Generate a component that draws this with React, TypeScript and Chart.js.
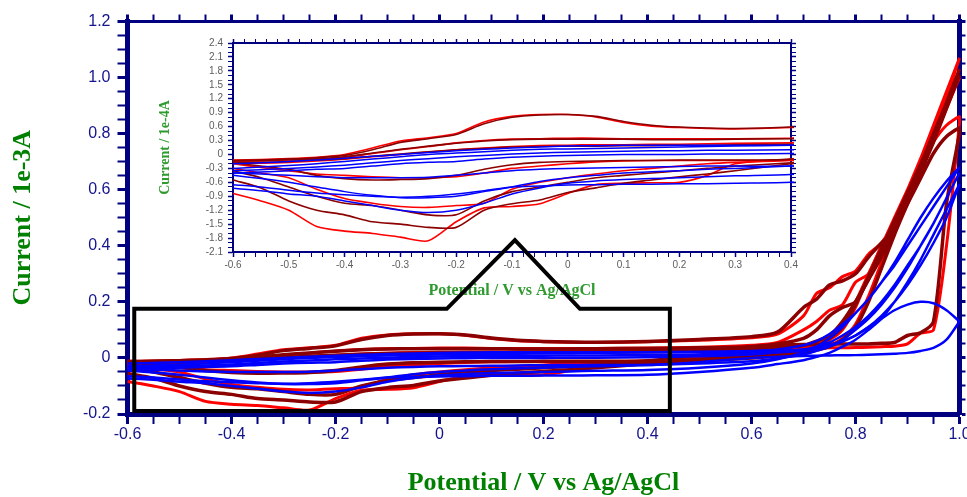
import React, { useEffect, useRef } from 'react';
import { Chart, registerables } from 'chart.js';

Chart.register(...registerables);

// Potential grid (V vs Ag/AgCl) shared by every sweep
const POTENTIAL = [-0.6, -0.55, -0.5, -0.45, -0.4, -0.35, -0.3, -0.25, -0.2, -0.15, -0.1, -0.05, 0, 0.05, 0.1, 0.15, 0.2, 0.25, 0.3, 0.4, 0.5, 0.6, 0.65, 0.7, 0.725, 0.75, 0.775, 0.8, 0.825, 0.85, 0.875, 0.9, 0.925, 0.95, 0.975, 1.0];

// Currents in 1e-3 A. FWD = anodic sweep, REV = return sweep (listed in ascending potential order)
const BLUE_1_FWD = [-0.03, -0.027, -0.024, -0.02, -0.015, -0.01, -0.005, 0.0, 0.003, 0.006, 0.009, 0.011, 0.012, 0.013, 0.014, 0.015, 0.016, 0.017, 0.018, 0.02, 0.022, 0.025, 0.03, 0.045, 0.06, 0.085, 0.12, 0.16, 0.21, 0.27, 0.33, 0.4, 0.47, 0.54, 0.61, 0.68];
const BLUE_1_REV = [-0.073, -0.078, -0.085, -0.09, -0.1, -0.11, -0.12, -0.125, -0.12, -0.105, -0.085, -0.072, -0.062, -0.057, -0.054, -0.052, -0.05, -0.048, -0.046, -0.043, -0.035, -0.02, -0.005, 0.02, 0.04, 0.07, 0.11, 0.16, 0.21, 0.27, 0.34, 0.42, 0.5, 0.57, 0.63, 0.68];
const BLUE_2_FWD = [-0.04, -0.038, -0.035, -0.032, -0.03, -0.025, -0.02, -0.017, -0.015, -0.01, -0.006, -0.004, -0.002, -0.001, 0.0, 0.0, 0.0, 0.001, 0.001, 0.002, 0.006, 0.012, 0.02, 0.03, 0.04, 0.055, 0.08, 0.11, 0.15, 0.2, 0.26, 0.33, 0.4, 0.48, 0.57, 0.66];
const BLUE_2_REV = [-0.045, -0.052, -0.06, -0.07, -0.08, -0.088, -0.093, -0.093, -0.09, -0.08, -0.07, -0.058, -0.05, -0.045, -0.04, -0.037, -0.035, -0.032, -0.03, -0.025, -0.02, -0.012, -0.002, 0.012, 0.025, 0.04, 0.065, 0.1, 0.14, 0.19, 0.25, 0.32, 0.4, 0.48, 0.57, 0.66];
const BLUE_3_FWD = [-0.035, -0.033, -0.03, -0.027, -0.023, -0.018, -0.013, -0.009, -0.005, -0.002, 0.001, 0.003, 0.005, 0.006, 0.007, 0.008, 0.008, 0.009, 0.009, 0.01, 0.012, 0.016, 0.02, 0.026, 0.032, 0.042, 0.058, 0.08, 0.11, 0.15, 0.2, 0.26, 0.33, 0.41, 0.5, 0.62];
const BLUE_3_REV = [-0.065, -0.07, -0.077, -0.083, -0.087, -0.09, -0.092, -0.09, -0.085, -0.078, -0.07, -0.068, -0.066, -0.065, -0.064, -0.064, -0.063, -0.063, -0.062, -0.06, -0.05, -0.035, -0.022, -0.008, 0.004, 0.018, 0.04, 0.065, 0.1, 0.14, 0.2, 0.27, 0.35, 0.44, 0.53, 0.62];
const BLUE_4_FWD = [-0.02, -0.018, -0.015, -0.012, -0.008, -0.004, 0.0, 0.004, 0.008, 0.011, 0.014, 0.016, 0.018, 0.019, 0.02, 0.02, 0.02, 0.02, 0.02, 0.02, 0.02, 0.022, 0.025, 0.03, 0.035, 0.045, 0.06, 0.08, 0.11, 0.14, 0.17, 0.19, 0.2, 0.195, 0.17, 0.13];
const BLUE_4_REV = [-0.04, -0.042, -0.045, -0.048, -0.05, -0.05, -0.05, -0.049, -0.045, -0.04, -0.035, -0.032, -0.03, -0.029, -0.028, -0.027, -0.026, -0.025, -0.025, -0.025, -0.015, 0.0, 0.004, 0.007, 0.008, 0.009, 0.01, 0.01, 0.011, 0.013, 0.015, 0.018, 0.025, 0.036, 0.065, 0.13];

const RED_1_FWD = [-0.012, -0.011, -0.009, -0.006, 0.0, 0.014, 0.029, 0.036, 0.045, 0.07, 0.082, 0.086, 0.086, 0.081, 0.069, 0.061, 0.058, 0.056, 0.055, 0.058, 0.063, 0.072, 0.085, 0.15, 0.23, 0.25, 0.29, 0.31, 0.37, 0.41, 0.49, 0.6, 0.71, 0.83, 0.95, 1.07];
const RED_1_REV = [-0.084, -0.1, -0.12, -0.155, -0.165, -0.17, -0.178, -0.186, -0.145, -0.115, -0.112, -0.106, -0.084, -0.065, -0.062, -0.061, -0.06, -0.045, -0.02, -0.01, 0.0, 0.01, 0.02, 0.035, 0.05, 0.08, 0.12, 0.2, 0.3, 0.4, 0.5, 0.6, 0.7, 0.81, 0.93, 1.07];
const DARKRED_1_FWD = [-0.013, -0.012, -0.01, -0.007, -0.002, 0.01, 0.026, 0.034, 0.043, 0.066, 0.08, 0.085, 0.086, 0.082, 0.071, 0.063, 0.059, 0.057, 0.056, 0.059, 0.066, 0.076, 0.092, 0.18, 0.21, 0.26, 0.275, 0.3, 0.36, 0.41, 0.46, 0.56, 0.67, 0.79, 0.91, 1.03];
const DARKRED_1_REV = [-0.055, -0.072, -0.1, -0.12, -0.13, -0.145, -0.15, -0.157, -0.157, -0.12, -0.106, -0.098, -0.082, -0.072, -0.062, -0.055, -0.048, -0.042, -0.035, -0.02, -0.005, 0.005, 0.012, 0.025, 0.04, 0.07, 0.11, 0.19, 0.29, 0.39, 0.49, 0.59, 0.69, 0.8, 0.91, 1.03];
const RED_2_FWD = [-0.015, -0.014, -0.012, -0.01, -0.006, 0.002, 0.01, 0.017, 0.025, 0.03, 0.033, 0.034, 0.035, 0.035, 0.034, 0.034, 0.034, 0.034, 0.034, 0.035, 0.038, 0.045, 0.055, 0.1, 0.13, 0.17, 0.19, 0.27, 0.3, 0.4, 0.48, 0.58, 0.68, 0.8, 0.9, 1.0];
const RED_2_REV = [-0.03, -0.04, -0.05, -0.075, -0.095, -0.105, -0.112, -0.114, -0.11, -0.105, -0.075, -0.06, -0.05, -0.042, -0.035, -0.03, -0.025, -0.02, -0.017, -0.013, -0.005, 0.003, 0.01, 0.02, 0.03, 0.045, 0.07, 0.12, 0.22, 0.34, 0.45, 0.56, 0.67, 0.78, 0.89, 1.0];
const DARKRED_2_FWD = [-0.014, -0.013, -0.011, -0.009, -0.005, 0.003, 0.011, 0.018, 0.024, 0.029, 0.032, 0.033, 0.033, 0.033, 0.033, 0.032, 0.032, 0.032, 0.033, 0.034, 0.036, 0.04, 0.05, 0.07, 0.1, 0.15, 0.18, 0.2, 0.28, 0.36, 0.46, 0.57, 0.68, 0.79, 0.9, 1.01];
const DARKRED_2_REV = [-0.035, -0.05, -0.07, -0.09, -0.105, -0.11, -0.12, -0.13, -0.13, -0.1, -0.08, -0.07, -0.06, -0.05, -0.045, -0.04, -0.035, -0.03, -0.025, -0.018, -0.01, 0.0, 0.008, 0.018, 0.028, 0.04, 0.065, 0.11, 0.2, 0.32, 0.44, 0.55, 0.66, 0.77, 0.89, 1.01];
const RED_3_FWD = [-0.02, -0.019, -0.017, -0.014, -0.01, -0.005, 0.0, 0.005, 0.01, 0.014, 0.017, 0.019, 0.02, 0.021, 0.021, 0.022, 0.022, 0.023, 0.024, 0.025, 0.027, 0.03, 0.033, 0.04, 0.05, 0.065, 0.1, 0.18, 0.29, 0.38, 0.48, 0.58, 0.68, 0.77, 0.83, 0.86];
const RED_3_REV = [-0.02, -0.028, -0.035, -0.042, -0.045, -0.048, -0.05, -0.05, -0.048, -0.04, -0.03, -0.025, -0.02, -0.016, -0.014, -0.013, -0.013, -0.013, -0.013, -0.012, 0.005, 0.025, 0.03, 0.034, 0.035, 0.036, 0.036, 0.037, 0.038, 0.04, 0.042, 0.05, 0.088, 0.1, 0.4, 0.84];
const DARKRED_3_FWD = [-0.018, -0.017, -0.015, -0.012, -0.009, -0.004, 0.001, 0.006, 0.01, 0.013, 0.016, 0.017, 0.018, 0.018, 0.019, 0.019, 0.02, 0.02, 0.021, 0.022, 0.025, 0.03, 0.035, 0.045, 0.06, 0.08, 0.13, 0.2, 0.28, 0.37, 0.46, 0.55, 0.64, 0.73, 0.79, 0.82];
const DARKRED_3_REV = [-0.018, -0.025, -0.032, -0.045, -0.052, -0.055, -0.054, -0.052, -0.045, -0.032, -0.022, -0.017, -0.015, -0.014, -0.013, -0.013, -0.012, -0.012, -0.012, -0.01, 0.01, 0.04, 0.045, 0.048, 0.048, 0.049, 0.05, 0.05, 0.05, 0.052, 0.055, 0.08, 0.09, 0.13, 0.55, 0.8];

const BLUE = '#0000ff';
const RED = '#ff0000';
const DARKRED = '#8b0000';

// Listed bottom-to-top in drawing order
const CYCLES = [
  { color: RED, fwd: RED_1_FWD, rev: RED_1_REV },
  { color: RED, fwd: RED_2_FWD, rev: RED_2_REV },
  { color: RED, fwd: RED_3_FWD, rev: RED_3_REV },
  { color: DARKRED, fwd: DARKRED_1_FWD, rev: DARKRED_1_REV },
  { color: DARKRED, fwd: DARKRED_2_FWD, rev: DARKRED_2_REV },
  { color: DARKRED, fwd: DARKRED_3_FWD, rev: DARKRED_3_REV },
  { color: BLUE, fwd: BLUE_1_FWD, rev: BLUE_1_REV },
  { color: BLUE, fwd: BLUE_2_FWD, rev: BLUE_2_REV },
  { color: BLUE, fwd: BLUE_3_FWD, rev: BLUE_3_REV },
  { color: BLUE, fwd: BLUE_4_FWD, rev: BLUE_4_REV },
];

// Inset is the same data shown in 1e-4 A
const INSET_FACTOR = 10;

// Callout (in main-chart data coordinates)
const CALLOUT_BOX = { left: -0.587, right: 0.443, top: 0.175, bottom: -0.189 };
const CALLOUT_POINTER = { baseLeft: 0.014, apexX: 0.145, apexY: 0.42, baseRight: 0.27 };

const NAVY = '#000080';
const TICK_TEXT = '#14148c';
const GREEN = '#008000';
const SANS = '"Liberation Sans", Arial, sans-serif';
const SERIF = '"Liberation Serif", "Times New Roman", serif';

const near = (v: number, step: number) => Math.abs(v / step - Math.round(v / step)) < 1e-6;
const fmt = (v: number) => (Math.abs(v) < 1e-9 ? '0' : v.toFixed(1));

function loopPoints(fwd: number[], rev: number[], k: number) {
  const f = POTENTIAL.map((x, i) => ({ x, y: fwd[i] * k }));
  const r = POTENTIAL.map((x, i) => ({ x, y: rev[i] * k })).reverse();
  return f.concat(r);
}

function makeDatasets(k: number, widths: { blue: number; red: number; dark: number }) {
  return CYCLES.map((c, i) => ({
    label: 'cycle ' + (i + 1),
    data: loopPoints(c.fwd, c.rev, k),
    showLine: true,
    borderColor: c.color,
    backgroundColor: c.color,
    borderWidth: c.color === BLUE ? widths.blue : c.color === RED ? widths.red : widths.dark,
    pointRadius: 0,
    tension: 0.25,
    clip: 3,
    order: CYCLES.length - i, // higher order is drawn first (underneath)
  }));
}

function axis(opts: any) {
  const { position, min, max, step, major, size, tickLength, border, labels, font, color, padding, title } = opts;
  const horizontal = position === 'top' || position === 'bottom';
  return {
    type: 'linear',
    axis: horizontal ? 'x' : 'y',
    position,
    min,
    max,
    afterFit: (s: any) => {
      if (horizontal) s.height = size; else s.width = size;
      s.paddingLeft = 0; s.paddingRight = 0; s.paddingTop = 0; s.paddingBottom = 0;
    },
    ticks: {
      stepSize: step,
      autoSkip: false,
      maxRotation: 0,
      minRotation: 0,
      padding: padding || 0,
      color: color || TICK_TEXT,
      font: font || { family: SANS, size: 10 },
      callback: (v: any) => (labels && near(Number(v), major) ? fmt(Number(v)) : ''),
    },
    grid: {
      drawOnChartArea: false,
      drawTicks: true,
      tickLength,
      color: NAVY,
      tickColor: NAVY,
      tickWidth: (c: any) => (c.tick && near(c.tick.value, major) ? opts.majorW : opts.minorW),
    },
    border: { display: true, color: NAVY, width: border },
    title: title || { display: false },
  };
}

const calloutPlugin = {
  id: 'callout',
  afterDatasetsDraw(chart: any) {
    const { ctx } = chart;
    const xs = chart.scales.x;
    const ys = chart.scales.y;
    const px = (v: number) => xs.getPixelForValue(v);
    const py = (v: number) => ys.getPixelForValue(v);
    const b = CALLOUT_BOX;
    const p = CALLOUT_POINTER;
    ctx.save();
    ctx.strokeStyle = '#000000';
    ctx.lineWidth = 4;
    ctx.lineJoin = 'miter';
    ctx.beginPath();
    ctx.moveTo(px(b.left), py(b.top));
    ctx.lineTo(px(p.baseLeft), py(b.top));
    ctx.lineTo(px(p.apexX), py(p.apexY));
    ctx.lineTo(px(p.baseRight), py(b.top));
    ctx.lineTo(px(b.right), py(b.top));
    ctx.lineTo(px(b.right), py(b.bottom));
    ctx.lineTo(px(b.left), py(b.bottom));
    ctx.closePath();
    ctx.stroke();
    ctx.restore();
  },
};

function mainConfig(): any {
  const tickFont = { family: SANS, size: 16 };
  return {
    type: 'scatter',
    data: { datasets: makeDatasets(1, { blue: 2.5, red: 3, dark: 3.5 }) },
    plugins: [calloutPlugin],
    options: {
      responsive: false,
      animation: false,
      events: [],
      layout: { padding: 0 },
      plugins: { legend: { display: false }, tooltip: { enabled: false } },
      scales: {
        x: axis({
          position: 'bottom', min: -0.6, max: 1.0, step: 0.05, major: 0.2, size: 83, tickLength: 10, border: 5,
          labels: true, font: tickFont, padding: 1, majorW: 3, minorW: 2,
          title: { display: true, text: 'Potential / V vs Ag/AgCl', color: GREEN, font: { family: SERIF, size: 26, weight: 'bold' }, padding: { top: 0, bottom: -2 } },
        }),
        y: axis({
          position: 'left', min: -0.2, max: 1.2, step: 0.05, major: 0.2, size: 127.5, tickLength: 10, border: 5,
          labels: true, font: tickFont, padding: 7, majorW: 3, minorW: 2,
          title: { display: true, text: 'Current / 1e-3A', color: GREEN, font: { family: SERIF, size: 26, weight: 'bold' }, padding: { top: 8, bottom: 0 } },
        }),
        xTop: axis({ position: 'top', min: -0.6, max: 1.0, step: 0.05, major: 0.2, size: 21.5, tickLength: 7, border: 3, labels: false, majorW: 3, minorW: 2 }),
        yRight: axis({ position: 'right', min: -0.2, max: 1.2, step: 0.05, major: 0.2, size: 7.5, tickLength: 6, border: 5, labels: false, majorW: 3, minorW: 2 }),
      },
    },
  };
}

function insetConfig(): any {
  const tickFont = { family: SANS, size: 10 };
  const grey = '#5c5c5c';
  return {
    type: 'scatter',
    data: { datasets: makeDatasets(INSET_FACTOR, { blue: 1.5, red: 1.6, dark: 1.6 }) },
    options: {
      responsive: false,
      animation: false,
      events: [],
      layout: { padding: 0 },
      plugins: { legend: { display: false }, tooltip: { enabled: false } },
      scales: {
        x: axis({
          position: 'bottom', min: -0.6, max: 0.4, step: 0.02, major: 0.1, size: 48, tickLength: 5, border: 2,
          labels: true, font: tickFont, color: grey, padding: 2.5, majorW: 1.5, minorW: 1,
          title: { display: true, text: 'Potential / V vs Ag/AgCl', color: '#2f9a2f', font: { family: SERIF, size: 16, weight: 'bold' }, padding: { top: 0, bottom: 0 } },
        }),
        y: axis({
          position: 'left', min: -2.1, max: 2.4, step: 0.1, major: 0.3, size: 93, tickLength: 5, border: 2,
          labels: true, font: tickFont, color: grey, padding: 5, majorW: 1.5, minorW: 1,
          title: { display: true, text: 'Current / 1e-4A', color: '#2f9a2f', font: { family: SERIF, size: 14, weight: 'bold' }, padding: { top: 17, bottom: 0 } },
        }),
        xTop: axis({ position: 'top', min: -0.6, max: 0.4, step: 0.02, major: 0.1, size: 13, tickLength: 4, border: 2, labels: false, majorW: 1.5, minorW: 1 }),
        yRight: axis({ position: 'right', min: -2.1, max: 2.4, step: 0.1, major: 0.3, size: 19, tickLength: 5, border: 2, labels: false, majorW: 1.5, minorW: 1 }),
      },
    },
  };
}

export default function App() {
  const mainRef = useRef<HTMLCanvasElement>(null);
  const insetRef = useRef<HTMLCanvasElement>(null);

  useEffect(() => {
    const inset = new Chart(insetRef.current as HTMLCanvasElement, insetConfig());
    const main = new Chart(mainRef.current as HTMLCanvasElement, mainConfig());
    return () => {
      main.destroy();
      inset.destroy();
    };
  }, []);

  return (
    <div style={{ position: 'absolute', left: 0, top: 0, width: 967, height: 497, background: '#ffffff' }}>
      <canvas ref={insetRef} width={670} height={270} style={{ position: 'absolute', left: 140, top: 30, width: 670, height: 270 }} />
      <canvas ref={mainRef} width={967} height={497} style={{ position: 'absolute', left: 0, top: 0, width: 967, height: 497 }} />
    </div>
  );
}
